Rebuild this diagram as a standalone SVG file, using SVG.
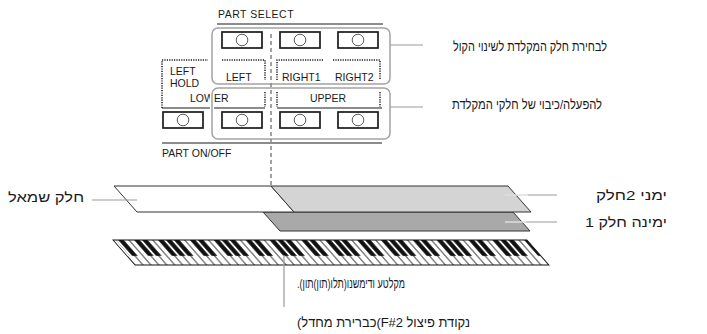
<svg xmlns="http://www.w3.org/2000/svg" width="707" height="334" viewBox="0 0 707 334">
<style>
.lbl{font-family:"Liberation Sans",Arial,sans-serif;font-size:10.5px;fill:#1a1a1a}
.heb{font-family:"Liberation Sans","DejaVu Sans",sans-serif;font-size:13.5px;fill:#1a1a1a}
.btn{fill:#fff;stroke:#1a1a1a;stroke-width:1.7}
.led{fill:#fff;stroke:#333;stroke-width:0.8}
.grp{fill:none;stroke:#a3a3a3;stroke-width:1.5}
.dot{fill:none;stroke:#1a1a1a;stroke-width:1.5;stroke-dasharray:1.2 1.2}
.sol{fill:none;stroke:#1a1a1a;stroke-width:1.2}
.con{fill:none;stroke:#999;stroke-width:1.2}
.part{stroke:#333;stroke-width:1}
</style>
<defs>
<g id="button"><rect x="0" y="0" width="40" height="16" class="btn"/><circle cx="20" cy="8" r="5.8" class="led"/></g>
<pattern id="oct" patternUnits="userSpaceOnUse" x="15.92" y="0" width="55.72" height="25">
<rect width="55.72" height="25" fill="#fff"/>
<path d="M0 0V25M7.96 0V25M15.92 0V25M23.88 0V25M31.84 0V25M39.8 0V25M47.76 0V25M55.72 0V25" stroke="#111" stroke-width="1"/>
<path d="M5.21 0h5.5v16h-5.5zM13.17 0h5.5v16h-5.5zM29.09 0h5.5v16h-5.5zM37.05 0h5.5v16h-5.5zM45.01 0h5.5v16h-5.5z" fill="#111"/>
</pattern>
</defs>

<g id="panel">
<text class="lbl" x="218" y="18" letter-spacing="0.5">PART  SELECT</text>
<line class="sol" x1="217" y1="24" x2="383" y2="24"/>
<rect class="grp" x="212" y="28" width="178" height="56" rx="6"/>
<path class="dot" d="M162 108V60H208M222 60H265V80M277 80V60H323M333 60H380V80M265 92V107M277 92V107M380 92V107"/>
<path class="sol" d="M162 108H265M277 108H382"/>
<text class="lbl" x="170" y="75">LEFT</text>
<text class="lbl" x="170" y="87">HOLD</text>
<text class="lbl" x="226" y="81">LEFT</text>
<text class="lbl" x="282" y="81">RIGHT1</text>
<text class="lbl" x="335" y="81">RIGHT2</text>
<text class="lbl" x="190" y="102">LOWER</text>
<text class="lbl" x="310" y="102">UPPER</text>
<rect x="212" y="88" width="178" height="51" rx="6" fill="none" stroke="#fff" stroke-width="4"/>
<rect class="grp" x="212" y="88" width="178" height="51" rx="6"/>
<line class="sol" x1="162" y1="143" x2="382" y2="143"/>
<text class="lbl" x="162" y="157">PART ON/OFF</text>
</g>

<g id="btn-left"><use href="#button" x="222" y="32"/></g>
<g id="btn-right1"><use href="#button" x="280" y="32"/></g>
<g id="btn-right2"><use href="#button" x="338" y="32"/></g>
<g id="btn-left-hold"><use href="#button" x="163" y="112"/></g>
<g id="btn-lower"><use href="#button" x="222" y="112"/></g>
<g id="btn-upper1"><use href="#button" x="280" y="112"/></g>
<g id="btn-upper2"><use href="#button" x="338" y="112"/></g>

<g id="part-right1"><polygon class="part" points="263,212 513,212 530,231 280,231" fill="#a9a9a9"/></g>
<g id="part-left"><polygon class="part" points="114,186 271,186 294,212 137,212" fill="#fff"/></g>
<g id="part-right2"><polygon class="part" points="271,186 508,186 531,212 294,212" fill="#d4d4d4"/></g>

<g id="keyboard" transform="translate(113,240) skewX(41.35)">
<rect width="414" height="25" fill="url(#oct)"/>
<rect x="0" y="0" width="2.8" height="16.2" fill="#fff"/>
<rect width="414" height="25" fill="none" stroke="#111" stroke-width="1"/>
</g>

<g id="connectors">
<line x1="271" y1="34" x2="271" y2="185" stroke="#8a8a8a" stroke-width="1.6" stroke-dasharray="4 3"/>
<line class="con" x1="390" y1="45" x2="423" y2="45"/>
<line class="con" x1="390" y1="107" x2="423" y2="107"/>
<line class="con" x1="92" y1="200" x2="137" y2="200"/>
<line class="con" x1="505" y1="195" x2="557" y2="195" stroke-width="2.6"/>
<line x1="505" y1="195" x2="528" y2="195" stroke="#fff" stroke-width="1"/>
<line class="con" x1="505" y1="222" x2="557" y2="222" stroke-width="2.6"/>
<line x1="505" y1="222" x2="526" y2="222" stroke="#fff" stroke-width="1"/>
<line class="con" x1="284" y1="255" x2="284" y2="307"/>
</g>

<g id="labels">
<text class="heb" x="453" y="51" font-size="12.5" textLength="154" lengthAdjust="spacingAndGlyphs">לבחירת חלק המקלדת לשינוי הקול</text>
<text class="heb" x="452" y="109" font-size="12.8" textLength="150" lengthAdjust="spacingAndGlyphs">להפעלה/כיבוי של חלקי המקלדת</text>
<text class="heb" x="8" y="202" font-size="16.5" textLength="76" lengthAdjust="spacingAndGlyphs">חלק שמאל</text>
<text class="heb" x="596" y="200" font-size="16" textLength="71" lengthAdjust="spacingAndGlyphs">ימני  2חלק</text>
<text class="heb" x="585" y="227" font-size="16" textLength="82" lengthAdjust="spacingAndGlyphs">ימינה חלק 1</text>
<text class="heb" x="297" y="288" font-size="14" textLength="108" lengthAdjust="spacingAndGlyphs">.(מקלטע ודימשנו(תלו(תון)תון</text>
<text class="heb" x="297" y="327" font-size="13.6" textLength="173" lengthAdjust="spacingAndGlyphs">(כברירת מחדל(F#2  נקודת פיצול</text>
</g>
</svg>
